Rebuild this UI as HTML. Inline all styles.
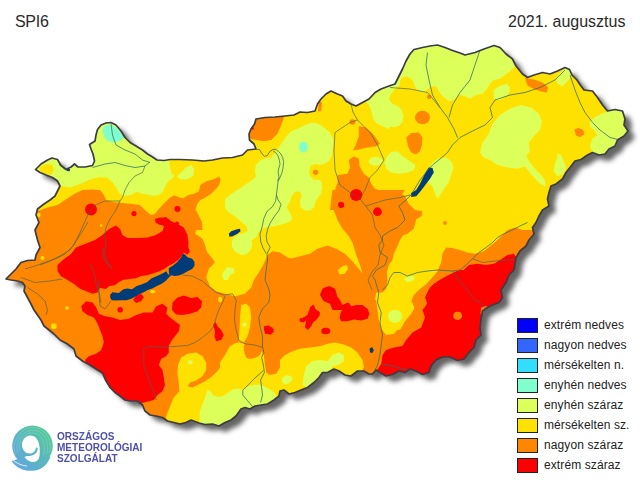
<!DOCTYPE html>
<html><head><meta charset="utf-8"><title>SPI6</title>
<style>
html,body{margin:0;padding:0;background:#fff;}
body{width:640px;height:480px;position:relative;overflow:hidden;font-family:"Liberation Sans",sans-serif;color:#2a2a2a;}
.t{position:absolute;font-size:16px;line-height:16px;white-space:nowrap;}
.lb{position:absolute;left:517px;width:19px;height:13px;border:1px solid #222;}
.lt{position:absolute;left:544px;font-size:12px;line-height:16px;white-space:nowrap;color:#222;letter-spacing:0.1px;}
svg{position:absolute;left:0;top:0;}
.lg{position:absolute;font-size:10.3px;line-height:12px;color:#4d51a8;left:57px;white-space:nowrap;font-weight:bold;transform-origin:0 0;transform:scaleX(0.975);}
</style></head><body>
<svg width="640" height="480" viewBox="0 0 640 480">
<defs>
<clipPath id="hu"><polygon points="35.5,169.5 41,164 47.5,160 52,158 57.5,159.5 61,165.5 66,169.5 71,167 74.5,164 78,167 85,167 92.5,165.5 94.5,161 93,154 91,149 89.5,144.5 95,141 96,135 97.5,129.5 101,125 106,123 111,122.5 116,125 121,131 125,137.5 130,142.5 136,146 142.5,150 147.5,154 152.5,157 157,160 164,160.5 170,159.5 180,159.5 192.5,160 204,161 212.5,160 222.5,158 232.5,157.5 242.5,155 247.5,150 256,149 254,144 249.5,140 249,134 251,129 254.5,124 256,119 265,117.5 275,117 285,116 294,115 300,112 307.5,112.5 315,111 317.5,104 321,99 326,94 331,91 337.5,94 342.5,96 346,101 351,104 356,106 362.5,102.5 369,99 375,92.5 381,89 389,86 395,84 399,76 402.5,69 406,61 410,54 414,49.5 422.5,47.5 430,46 437.5,45 445,47.5 452.5,50.5 460,53 465,55 475,52.5 484,49 494,45.5 500,47.5 506,54 512.5,59 516,66 522.5,74 527.5,77.5 534,75 542.5,72.5 550,74 557.5,71 565,67.5 569.5,69.5 572,75 577,80 581,86 584,90 592.5,91 597.5,97.5 602.5,105 607.5,111 615,109.5 622.5,111 625,119 624,125 628,131 624,136 617.5,140 615,146 609,149 605,154 599,155 592.5,152.5 587.5,155 581,159.5 575,161 570,167.5 566,172.5 562.5,179 556,184 551,186 549,192.5 547.5,199 549,206 542.5,210 539,216 536,222.5 532.5,227.5 534,234 529,240 526,246 520,251 516,257.5 515,264 514,270 509,275 506,282.5 501,290 502.5,297.5 499,302.5 492.5,305 487.5,307.5 482.5,311 481,319 480,327.5 481,335 476,340 474,347.5 469,352.5 464,359 457.5,360.5 450,357 442.5,357 436,360 431,366 429,372.5 422.5,374.5 416,371 410,369 405,372.5 399,371 392.5,374.5 386,376 380,372.5 376,370 372.5,374 369,374 364,371 357.5,371 351,376 345,375 339,371 334,369 327.5,372.5 322.5,372.5 319,377.5 314,382.5 307.5,387.5 301,390 295,392.5 289,394 284,390 280,391 279,396 274,400 267.5,404 261,405 255,406 250,409 245,407.5 241,409 236,416 231,420 225,422.5 219,426 212.5,424 205,424.5 199,423 191,420 186,422.5 180,424 174,422.5 167.5,421 162.5,417.5 156,416 150,415 145,411 142.5,405 137.5,401 131,401 125,400 120,396 115,392.5 110,387.5 105.5,380 102.5,373 96,369 90,365 82.5,361 76,356 74,349 67.5,344 60,340 54,334 49,330 44,326 41,320 37.5,315 34,310 31,304 27.5,297.5 24,291 25,286 22.5,282.5 17.5,281 11,280 6,279 11,274 16,269 21,262.5 27.5,260.5 35,260 36,255 40,247.5 37.5,240 35,230 39,222.5 36,215 37.5,209 44,204 50,200 55,196 57.5,191 60,186 57.5,181 52.5,177.5 46,175 40,172.5"/></clipPath>
<filter id="sh" x="-10%" y="-10%" width="120%" height="120%"><feGaussianBlur stdDeviation="2.5"/></filter>
</defs>
<g filter="url(#sh)" opacity="0.85"><polygon points="35.5,169.5 41,164 47.5,160 52,158 57.5,159.5 61,165.5 66,169.5 71,167 74.5,164 78,167 85,167 92.5,165.5 94.5,161 93,154 91,149 89.5,144.5 95,141 96,135 97.5,129.5 101,125 106,123 111,122.5 116,125 121,131 125,137.5 130,142.5 136,146 142.5,150 147.5,154 152.5,157 157,160 164,160.5 170,159.5 180,159.5 192.5,160 204,161 212.5,160 222.5,158 232.5,157.5 242.5,155 247.5,150 256,149 254,144 249.5,140 249,134 251,129 254.5,124 256,119 265,117.5 275,117 285,116 294,115 300,112 307.5,112.5 315,111 317.5,104 321,99 326,94 331,91 337.5,94 342.5,96 346,101 351,104 356,106 362.5,102.5 369,99 375,92.5 381,89 389,86 395,84 399,76 402.5,69 406,61 410,54 414,49.5 422.5,47.5 430,46 437.5,45 445,47.5 452.5,50.5 460,53 465,55 475,52.5 484,49 494,45.5 500,47.5 506,54 512.5,59 516,66 522.5,74 527.5,77.5 534,75 542.5,72.5 550,74 557.5,71 565,67.5 569.5,69.5 572,75 577,80 581,86 584,90 592.5,91 597.5,97.5 602.5,105 607.5,111 615,109.5 622.5,111 625,119 624,125 628,131 624,136 617.5,140 615,146 609,149 605,154 599,155 592.5,152.5 587.5,155 581,159.5 575,161 570,167.5 566,172.5 562.5,179 556,184 551,186 549,192.5 547.5,199 549,206 542.5,210 539,216 536,222.5 532.5,227.5 534,234 529,240 526,246 520,251 516,257.5 515,264 514,270 509,275 506,282.5 501,290 502.5,297.5 499,302.5 492.5,305 487.5,307.5 482.5,311 481,319 480,327.5 481,335 476,340 474,347.5 469,352.5 464,359 457.5,360.5 450,357 442.5,357 436,360 431,366 429,372.5 422.5,374.5 416,371 410,369 405,372.5 399,371 392.5,374.5 386,376 380,372.5 376,370 372.5,374 369,374 364,371 357.5,371 351,376 345,375 339,371 334,369 327.5,372.5 322.5,372.5 319,377.5 314,382.5 307.5,387.5 301,390 295,392.5 289,394 284,390 280,391 279,396 274,400 267.5,404 261,405 255,406 250,409 245,407.5 241,409 236,416 231,420 225,422.5 219,426 212.5,424 205,424.5 199,423 191,420 186,422.5 180,424 174,422.5 167.5,421 162.5,417.5 156,416 150,415 145,411 142.5,405 137.5,401 131,401 125,400 120,396 115,392.5 110,387.5 105.5,380 102.5,373 96,369 90,365 82.5,361 76,356 74,349 67.5,344 60,340 54,334 49,330 44,326 41,320 37.5,315 34,310 31,304 27.5,297.5 24,291 25,286 22.5,282.5 17.5,281 11,280 6,279 11,274 16,269 21,262.5 27.5,260.5 35,260 36,255 40,247.5 37.5,240 35,230 39,222.5 36,215 37.5,209 44,204 50,200 55,196 57.5,191 60,186 57.5,181 52.5,177.5 46,175 40,172.5" fill="#4a4a4a" transform="translate(7,6)"/></g>
<polygon points="35.5,169.5 41,164 47.5,160 52,158 57.5,159.5 61,165.5 66,169.5 71,167 74.5,164 78,167 85,167 92.5,165.5 94.5,161 93,154 91,149 89.5,144.5 95,141 96,135 97.5,129.5 101,125 106,123 111,122.5 116,125 121,131 125,137.5 130,142.5 136,146 142.5,150 147.5,154 152.5,157 157,160 164,160.5 170,159.5 180,159.5 192.5,160 204,161 212.5,160 222.5,158 232.5,157.5 242.5,155 247.5,150 256,149 254,144 249.5,140 249,134 251,129 254.5,124 256,119 265,117.5 275,117 285,116 294,115 300,112 307.5,112.5 315,111 317.5,104 321,99 326,94 331,91 337.5,94 342.5,96 346,101 351,104 356,106 362.5,102.5 369,99 375,92.5 381,89 389,86 395,84 399,76 402.5,69 406,61 410,54 414,49.5 422.5,47.5 430,46 437.5,45 445,47.5 452.5,50.5 460,53 465,55 475,52.5 484,49 494,45.5 500,47.5 506,54 512.5,59 516,66 522.5,74 527.5,77.5 534,75 542.5,72.5 550,74 557.5,71 565,67.5 569.5,69.5 572,75 577,80 581,86 584,90 592.5,91 597.5,97.5 602.5,105 607.5,111 615,109.5 622.5,111 625,119 624,125 628,131 624,136 617.5,140 615,146 609,149 605,154 599,155 592.5,152.5 587.5,155 581,159.5 575,161 570,167.5 566,172.5 562.5,179 556,184 551,186 549,192.5 547.5,199 549,206 542.5,210 539,216 536,222.5 532.5,227.5 534,234 529,240 526,246 520,251 516,257.5 515,264 514,270 509,275 506,282.5 501,290 502.5,297.5 499,302.5 492.5,305 487.5,307.5 482.5,311 481,319 480,327.5 481,335 476,340 474,347.5 469,352.5 464,359 457.5,360.5 450,357 442.5,357 436,360 431,366 429,372.5 422.5,374.5 416,371 410,369 405,372.5 399,371 392.5,374.5 386,376 380,372.5 376,370 372.5,374 369,374 364,371 357.5,371 351,376 345,375 339,371 334,369 327.5,372.5 322.5,372.5 319,377.5 314,382.5 307.5,387.5 301,390 295,392.5 289,394 284,390 280,391 279,396 274,400 267.5,404 261,405 255,406 250,409 245,407.5 241,409 236,416 231,420 225,422.5 219,426 212.5,424 205,424.5 199,423 191,420 186,422.5 180,424 174,422.5 167.5,421 162.5,417.5 156,416 150,415 145,411 142.5,405 137.5,401 131,401 125,400 120,396 115,392.5 110,387.5 105.5,380 102.5,373 96,369 90,365 82.5,361 76,356 74,349 67.5,344 60,340 54,334 49,330 44,326 41,320 37.5,315 34,310 31,304 27.5,297.5 24,291 25,286 22.5,282.5 17.5,281 11,280 6,279 11,274 16,269 21,262.5 27.5,260.5 35,260 36,255 40,247.5 37.5,240 35,230 39,222.5 36,215 37.5,209 44,204 50,200 55,196 57.5,191 60,186 57.5,181 52.5,177.5 46,175 40,172.5" fill="#ffe100"/>
<g clip-path="url(#hu)">
<polygon points="30.0,150.0 100.0,110.0 125.0,125.0 170.0,159.0 169.0,161.7 170.0,167.0 171.4,173.4 174.5,175.8 171.4,179.0 167.5,182.0 165.0,186.7 162.8,192.0 159.0,195.0 153.4,196.0 147.0,194.5 141.0,193.4 137.0,191.4 132.5,194.5 125.0,196.0 120.0,194.0 116.0,187.5 112.5,182.5 107.5,178.0 100.0,177.0 90.0,179.5 80.0,184.0 70.0,187.5 60.0,186.0 50.0,180.0 30.0,170.0" fill="#dcff5a"/>
<polygon points="38.8,167.5 45.0,164.0 52.5,164.5 54.0,170.0 51.0,175.0 45.0,174.0 40.0,171.0" fill="#ffe100"/>
<polygon points="104.0,126.0 109.0,124.5 114.0,126.0 120.0,131.0 124.0,137.5 120.0,141.0 114.0,142.5 107.5,141.0 104.0,136.0 102.5,131.0" fill="#80ffcc"/>
<polygon points="176.9,176.6 181.6,171.9 186.2,167.2 191.7,164.8 194.0,168.8 193.8,175.0 190.2,178.1 184.7,179.7 180.0,178.9" fill="#dcff5a"/>
<polygon points="255.9,164.7 260.0,160.6 265.1,158.6 271.2,157.6 275.6,151.6 280.3,145.3 283.4,140.6 287.3,135.2 291.2,131.2 296.7,128.9 302.2,126.6 306.9,124.2 311.6,122.7 317.0,123.4 321.7,125.8 325.6,128.9 329.5,132.0 331.9,135.9 333.4,140.6 333.1,146.1 332.4,154.5 329.4,160.6 324.3,163.7 318.2,165.7 312.0,167.8 309.0,171.8 311.0,175.9 316.1,179.0 321.2,181.0 322.2,187.1 321.2,193.3 318.2,197.3 315.1,202.4 314.1,207.6 310.0,210.6 304.9,210.6 300.8,207.6 299.8,201.4 301.8,195.3 299.8,191.2 294.7,192.2 291.6,196.3 289.6,202.4 286.6,207.5 289.7,212.2 292.0,216.9 291.2,220.8 286.6,223.1 280.3,224.7 274.0,226.2 268.6,227.0 263.9,227.8 260.8,230.2 258.4,232.5 256.9,236.4 253.8,238.8 251.4,240.3 252.2,245.0 250.9,249.7 247.5,253.6 242.8,255.2 238.1,253.6 234.2,250.5 231.9,246.6 231.9,241.9 233.4,238.0 238.1,234.8 243.6,233.3 247.5,231.0 246.7,226.2 243.6,223.9 241.2,221.6 237.3,218.4 233.4,215.3 228.8,212.2 225.6,209.0 224.8,202.8 225.6,198.1 227.3,197.3 232.4,193.3 238.6,189.2 244.7,185.1 250.8,181.0 255.9,176.9 254.9,170.8" fill="#dcff5a"/>
<ellipse cx="303.4" cy="146.9" rx="4.4" ry="5.3" fill="#80ffcc"/>
<polygon points="365.0,102.0 373.6,95.9 378.3,91.2 385.3,88.1 391.6,87.3 395.5,85.8 396.2,88.1 393.1,91.2 390.0,95.2 389.2,99.8 392.3,103.8 397.8,106.1 401.7,110.0 403.3,115.5 402.5,121.7 399.4,125.6 394.7,127.2 390.0,126.4 387.7,129.5 385.3,127.2 380.6,125.6 376.7,123.3 373.6,119.4 372.0,113.9 370.5,108.4 368.9,104.5" fill="#dcff5a"/>
<ellipse cx="375.8" cy="161.2" rx="7.0" ry="4.2" fill="#dcff5a"/>
<polygon points="386.2,157.5 391.2,152.0 397.5,151.2 402.5,156.2 410.0,161.2 415.5,165.0 413.8,170.0 407.5,172.5 400.0,173.8 391.2,172.5 386.2,168.8 384.5,162.5" fill="#dcff5a"/>
<polygon points="380.0,87.5 392.0,90.0 396.2,88.1 399.5,85.5 400.2,80.3 402.5,77.2 407.2,76.4 411.1,78.8 413.4,81.9 414.2,85.0 416.6,88.9 421.2,91.2 425.2,92.5 425.9,90.5 429.0,88.1 432.2,86.6 436.1,86.2 438.8,91.2 442.5,96.2 448.8,101.2 453.8,100.0 458.8,95.0 465.0,96.2 470.0,98.8 476.2,95.0 482.5,93.8 486.2,90.0 490.0,83.8 493.8,80.0 500.0,78.8 505.0,75.0 510.0,71.2 513.8,67.5 520.0,62.5 520.0,30.0 405.0,30.0" fill="#dcff5a"/>
<polygon points="493.8,90.0 500.0,86.2 507.5,86.2 510.0,91.2 506.2,96.2 500.0,100.0 493.8,98.8" fill="#dcff5a"/>
<polygon points="480.0,152.5 482.5,142.5 488.8,133.8 492.5,123.8 500.0,115.0 510.0,108.8 521.2,105.0 531.2,107.5 538.8,113.8 542.0,121.2 540.0,130.0 533.8,136.2 528.8,142.5 530.0,151.2 526.2,156.2 530.0,162.5 535.0,168.8 540.0,173.8 545.0,180.0 545.5,186.2 540.0,183.8 533.8,177.5 528.8,171.2 525.0,166.2 517.5,168.8 507.5,167.5 497.5,165.0 490.0,160.0 483.8,157.5" fill="#dcff5a"/>
<polygon points="557.5,153.8 561.2,155.0 563.8,161.2 566.2,167.5 563.8,173.8 557.5,176.2 553.8,171.2 555.0,163.8 557.0,158.8" fill="#dcff5a"/>
<polygon points="493.8,90.0 500.0,86.2 507.5,85.0 510.0,90.0 505.0,96.2 498.8,98.8 493.8,95.0" fill="#dcff5a"/>
<polygon points="590.0,121.2 596.2,116.2 605.0,112.5 615.0,109.5 630.0,105.0 640.0,118.8 640.0,140.0 618.8,160.0 598.8,157.5 592.5,152.5 590.0,146.2 592.5,138.8 597.5,135.0 593.8,130.0 590.0,126.2" fill="#dcff5a"/>
<polygon points="493.8,91.2 498.8,86.2 506.2,83.8 510.0,87.5 506.2,92.5 500.0,97.5 495.0,97.5" fill="#dcff5a"/>
<polygon points="559.5,73.8 565.0,68.0 570.0,70.0 571.2,76.2 567.5,81.2 562.5,86.2 557.5,83.8 556.2,78.8" fill="#dcff5a"/>
<polygon points="431.2,163.8 437.5,158.8 446.2,157.5 451.2,161.2 453.8,167.5 451.2,175.0 448.8,182.5 443.8,188.8 440.0,195.0 437.5,198.8 435.0,193.8 432.5,186.2 428.8,183.8 426.2,178.8 428.8,171.2" fill="#dcff5a"/>
<polygon points="153.4,215.6 158.0,210.0 163.6,204.0 169.0,198.4 173.8,195.3 178.4,196.9 183.0,198.4 187.8,195.3 194.0,193.8 198.8,191.4 200.3,185.0 206.5,181.2 214.4,179.0 219.0,176.5 220.6,179.0 219.8,183.6 216.7,188.3 211.2,193.8 205.0,197.7 200.3,200.0 197.2,204.0 195.6,209.4 198.8,215.6 201.9,221.9 202.6,230.0 160.0,230.0" fill="#ff8700"/>
<polygon points="358.8,126.2 366.2,127.5 373.8,135.0 380.0,143.8 376.2,146.2 367.5,147.5 358.8,149.5 353.0,150.5 356.2,143.8 358.8,136.2" fill="#ff8700"/>
<ellipse cx="352.5" cy="122.0" rx="3.0" ry="2.8" fill="#ff8700"/>
<polygon points="337.5,175.0 347.5,173.8 350.0,167.5 348.8,160.0 353.8,156.2 358.8,158.8 359.5,166.2 363.8,173.8 368.8,177.5 371.2,183.8 375.0,188.8 382.5,191.2 390.0,190.0 398.8,192.5 405.0,196.2 407.5,202.5 400.0,206.2 397.5,210.0 330.0,210.0 331.2,200.0 335.0,190.0 337.5,182.5" fill="#ff8700"/>
<ellipse cx="422.5" cy="117.5" rx="7.5" ry="6.8" fill="#ff8700"/>
<polygon points="406.2,137.5 411.2,133.0 418.8,132.5 422.5,137.5 422.0,145.0 420.0,151.2 416.2,154.5 411.2,152.5 408.0,146.2" fill="#ff8700"/>
<ellipse cx="429.2" cy="97.0" rx="2.0" ry="2.0" fill="#ff8700"/>
<ellipse cx="316.2" cy="172.0" rx="1.8" ry="1.8" fill="#ff8700"/>
<polygon points="318.8,101.2 322.0,102.5 321.2,111.2 318.0,111.2" fill="#ff8700"/>
<ellipse cx="429.2" cy="96.8" rx="2.0" ry="2.0" fill="#ff8700"/>
<polygon points="525.0,78.0 533.8,79.5 542.5,82.5 548.0,87.0 547.0,92.5 541.2,91.5 533.8,89.0 527.5,85.5" fill="#ff8700"/>
<polygon points="574.5,130.0 578.8,128.2 583.0,130.0 583.8,134.5 580.0,137.0 576.2,135.5" fill="#ff8700"/>
<polygon points="574.5,130.0 577.5,128.0 583.0,130.0 584.5,133.8 580.5,137.0 576.2,135.5" fill="#ff8700"/>
<polygon points="400.0,193.8 405.0,196.2 408.8,203.8 415.0,210.0 422.5,211.2 421.2,216.2 415.0,220.0 413.8,228.8 407.5,233.8 400.0,236.2" fill="#ff8700"/>
<ellipse cx="445.0" cy="223.0" rx="2.0" ry="2.0" fill="#ff8700"/>
<polygon points="488.8,250.0 493.8,243.8 500.0,237.5 507.5,230.0 515.0,227.5 522.5,230.0 530.0,232.5 535.0,230.0 536.2,236.2 532.5,241.2 528.8,247.5 526.2,250.0" fill="#ff8700"/>
<polygon points="400.0,350.0 400.0,330.0 405.0,321.2 411.2,313.8 416.2,305.0 421.2,295.0 425.0,287.5 431.2,278.8 437.5,271.2 441.2,262.5 442.5,253.8 446.2,247.5 452.5,248.0 460.0,250.0 467.5,252.5 475.0,253.8 483.8,251.2 490.0,246.2 496.2,241.2 502.5,236.2 510.0,231.2 517.5,230.0 550.0,230.0 550.0,350.0" fill="#ff8700"/>
<polygon points="280.0,257.5 290.0,258.8 300.0,256.2 310.0,253.8 317.5,248.8 327.5,245.5 336.2,248.8 345.0,253.8 352.5,261.2 358.8,268.8 362.5,273.8 360.0,265.0 356.2,255.0 352.5,242.5 348.8,236.2 342.5,228.8 337.5,220.0 333.8,210.0 331.2,200.0 332.5,190.0 405.0,190.0 400.0,197.5 403.8,205.0 410.0,211.2 418.8,211.2 422.5,215.0 416.2,218.8 415.0,225.0 410.0,230.0 403.8,233.8 400.0,240.0 397.5,246.2 393.8,253.8 392.5,260.0 388.8,265.0 387.0,272.5 387.5,281.2 386.2,288.8 382.5,292.5 376.2,292.5 375.0,300.0 376.2,310.0 280.0,310.0" fill="#ff8700"/>
<polygon points="440.0,275.0 432.5,278.8 425.0,285.0 418.8,290.0 413.8,295.0 411.2,301.2 415.0,306.2 416.2,310.0 440.0,310.0" fill="#ff8700"/>
<polygon points="0.0,212.0 30.0,212.0 41.0,210.0 47.5,207.5 57.5,205.0 65.0,200.0 74.0,194.0 82.5,190.0 92.5,189.5 100.0,190.0 104.0,195.0 106.0,200.0 112.5,202.0 122.5,203.0 132.5,204.0 140.0,205.0 146.0,211.0 151.0,215.0 155.0,214.0 160.0,220.0 198.0,220.0 200.0,220.0 197.5,227.5 195.0,233.8 202.5,238.8 205.0,245.0 207.0,252.0 212.0,258.0 215.0,262.5 208.8,268.8 206.2,277.5 210.0,286.2 216.2,291.2 225.0,293.8 235.0,296.2 245.0,293.8 251.2,287.5 253.8,280.0 258.8,272.5 263.8,263.8 267.5,255.0 272.5,251.2 280.0,252.5 287.5,257.5 296.2,260.0 307.5,256.2 316.2,252.5 320.0,251.2 335.0,255.0 335.0,440.0 0.0,440.0" fill="#ff8700"/>
<polygon points="330.0,300.0 376.2,300.0 377.5,310.0 378.8,320.0 381.2,328.8 386.2,335.0 393.8,333.8 397.5,330.0 405.0,328.8 410.0,323.8 413.8,317.5 415.0,310.0 412.5,302.5 416.2,297.5 420.0,293.8 423.8,287.5 428.8,281.2 436.2,276.2 442.5,272.5 452.5,270.0 480.0,262.0 520.0,262.0 520.0,400.0 330.0,400.0" fill="#ff8700"/>
<polygon points="241.2,305.0 246.2,303.8 250.0,307.5 251.2,317.5 250.0,327.5 247.5,336.2 243.8,342.5 238.8,341.2 239.5,330.0 240.0,317.5" fill="#ffe100"/>
<polygon points="220.0,362.5 225.0,355.0 230.0,346.2 237.5,342.5 245.0,343.8 243.8,346.2 243.0,353.8 246.2,358.8 253.8,358.8 260.0,356.2 261.2,351.2 263.8,355.0 265.0,365.0 266.2,372.5 270.0,375.0 276.2,373.8 280.0,367.5 280.0,360.0 285.0,355.0 292.5,351.2 300.0,348.8 310.0,347.5 320.0,346.2 327.5,343.8 335.0,342.5 343.8,344.5 351.2,347.5 357.5,352.5 362.5,360.0 363.8,367.5 360.0,373.8 355.0,376.2 355.0,400.0 220.0,400.0" fill="#ffe100"/>
<polygon points="166.2,416.2 170.0,406.2 173.8,397.5 179.5,391.2 178.8,382.5 177.5,373.8 178.0,365.0 181.2,357.5 187.5,353.8 196.2,352.5 202.5,356.2 206.2,362.5 206.2,370.0 202.5,376.2 196.2,380.5 190.0,382.5 187.5,386.2 192.5,387.5 198.8,384.5 205.0,381.2 211.2,377.0 216.2,372.5 221.2,366.2 224.5,360.0 227.0,353.8 229.5,348.0 233.8,343.8 240.0,342.5 243.0,346.2 244.5,352.5 246.2,357.5 250.0,359.5 256.2,357.5 260.0,355.0 260.0,430.0 166.2,430.0" fill="#ffe100"/>
<polygon points="256.2,117.5 265.0,116.2 275.0,115.8 285.0,115.0 281.2,125.0 277.5,133.8 271.2,140.0 263.8,141.2 256.2,140.0 250.5,138.8 247.5,133.8 250.0,128.8 253.8,123.8" fill="#ff8700"/>
<ellipse cx="356.2" cy="195.0" rx="5.0" ry="4.8" fill="#ff0000"/>
<ellipse cx="341.2" cy="204.5" rx="2.8" ry="2.5" fill="#ff0000"/>
<ellipse cx="377.5" cy="209.5" rx="2.8" ry="2.2" fill="#ff0000"/>
<polygon points="400.0,350.0 406.2,340.0 412.5,332.5 421.2,327.5 425.0,317.5 422.5,310.0 427.5,303.8 426.2,295.0 430.0,287.5 437.5,281.2 446.2,276.2 453.8,272.5 462.5,271.2 468.8,265.0 477.5,263.8 486.2,265.0 493.8,263.8 500.0,260.0 507.5,255.0 513.8,253.8 517.5,258.8 550.0,258.8 550.0,350.0" fill="#ff0000"/>
<ellipse cx="356.2" cy="195.0" rx="6.2" ry="6.0" fill="#ff0000"/>
<ellipse cx="341.2" cy="205.0" rx="3.0" ry="3.0" fill="#ff0000"/>
<ellipse cx="377.5" cy="212.0" rx="4.5" ry="4.0" fill="#ff0000"/>
<polygon points="320.0,295.0 322.5,288.8 328.8,286.2 333.8,288.8 336.2,295.0 340.0,300.0 342.5,305.0 347.5,302.5 351.2,306.2 352.5,310.0 332.5,310.0 330.0,303.8 323.8,301.2" fill="#ff0000"/>
<polygon points="440.0,281.2 433.8,283.8 428.8,290.0 425.0,297.5 427.5,303.8 423.8,310.0 440.0,310.0" fill="#ff0000"/>
<polygon points="57.5,265.0 64.0,259.0 71.0,254.0 76.0,247.5 85.0,244.0 95.0,240.0 102.5,235.0 109.0,229.0 116.0,225.5 120.0,229.0 122.5,235.0 127.5,238.0 137.5,238.0 147.5,237.5 156.0,235.0 162.5,231.0 164.0,226.0 159.0,224.0 155.0,221.0 160.0,218.0 166.0,217.0 171.0,221.0 177.5,224.0 183.8,227.5 187.5,235.0 188.5,242.5 188.3,247.0 189.8,251.7 187.5,254.8 183.6,252.5 181.2,256.4 178.0,260.3 173.4,263.4 168.8,265.8 164.0,268.9 159.4,271.2 153.0,273.6 146.9,275.2 141.4,276.0 136.0,278.3 129.7,279.0 123.4,279.8 118.8,282.2 114.8,285.3 109.4,286.0 106.0,289.0 100.0,288.0 97.5,292.5 92.5,293.8 86.2,291.2 80.0,288.8 73.8,283.8 67.5,280.0 61.2,276.2 57.5,271.2" fill="#ff0000"/>
<ellipse cx="91.0" cy="209.5" rx="6.0" ry="6.0" fill="#ff0000"/>
<ellipse cx="134.0" cy="213.5" rx="2.6" ry="2.6" fill="#ff0000"/>
<ellipse cx="177.5" cy="209.0" rx="3.0" ry="3.0" fill="#ff0000"/>
<polygon points="155.0,219.0 160.0,217.5 166.0,218.5 170.0,222.0 168.0,225.0 160.0,225.0 156.0,223.0" fill="#ff0000"/>
<ellipse cx="177.0" cy="223.5" rx="2.0" ry="2.0" fill="#ff0000"/>
<ellipse cx="177.5" cy="208.8" rx="2.0" ry="2.0" fill="#ff0000"/>
<polygon points="81.2,306.2 86.2,301.2 92.5,302.5 96.2,307.5 98.8,313.8 105.0,316.2 112.5,317.5 120.0,320.0 128.8,318.8 136.2,315.0 143.8,312.5 152.5,312.5 156.2,306.2 162.5,303.8 167.5,307.5 166.2,313.8 170.0,317.5 175.0,321.2 180.0,325.0 178.8,331.2 175.0,336.2 171.2,341.2 168.8,346.2 168.8,352.5 166.2,356.2 161.2,358.8 158.8,365.0 162.5,370.0 163.8,377.5 165.0,385.0 162.5,391.2 157.5,395.0 153.8,400.0 115.0,410.0 95.0,385.0 85.0,360.0 88.8,356.2 96.2,353.8 101.2,350.0 103.8,342.5 102.5,336.2 100.0,330.0 97.0,322.5 93.8,317.5 87.5,315.0 82.5,311.2" fill="#ff0000"/>
<polygon points="172.5,302.5 177.5,297.5 183.8,295.5 191.2,298.0 197.5,297.0 202.0,301.2 201.2,307.5 197.5,311.2 190.0,313.8 182.5,315.0 176.2,314.5 172.0,310.0" fill="#ff0000"/>
<polygon points="213.0,325.0 215.5,322.0 217.5,326.2 221.2,330.0 223.8,335.0 221.2,340.0 216.2,341.2 214.5,336.2 215.0,331.2" fill="#ff0000"/>
<polygon points="133.0,300.0 136.2,295.5 141.2,293.8 143.8,297.0 141.2,301.2 136.2,303.0" fill="#ff0000"/>
<ellipse cx="120.2" cy="309.8" rx="2.8" ry="2.8" fill="#ff0000"/>
<polygon points="320.5,293.8 323.8,288.0 330.0,286.2 335.0,288.8 337.0,295.0 333.8,300.0 338.8,302.5 342.5,306.2 340.0,310.0 336.2,308.8 332.5,301.2 327.5,301.2 322.5,299.5" fill="#ff0000"/>
<polygon points="339.5,317.5 341.2,311.2 345.0,307.5 348.8,302.5 351.2,306.2 356.2,305.0 362.5,305.0 367.5,308.8 369.5,313.8 367.5,318.8 361.2,320.5 353.8,319.5 347.5,321.2 341.2,321.2" fill="#ff0000"/>
<polygon points="311.2,310.0 313.8,304.5 315.5,310.0 320.0,312.5 317.5,317.5 313.8,321.2 311.2,326.2 308.0,330.0 305.0,327.5 306.2,321.2 308.8,316.2" fill="#ff0000"/>
<ellipse cx="301.2" cy="320.0" rx="1.8" ry="2.0" fill="#ff0000"/>
<ellipse cx="325.8" cy="331.0" rx="4.5" ry="3.2" fill="#ff0000"/>
<polygon points="263.8,328.8 267.5,325.8 272.5,327.5 273.8,332.0 270.0,334.5 265.5,333.0" fill="#ff0000"/>
<polygon points="263.8,326.2 268.8,325.5 273.8,329.5 271.2,334.5 265.0,333.8" fill="#ff0000"/>
<polygon points="310.0,307.5 313.0,304.5 315.0,308.8 318.8,311.2 320.0,315.0 316.2,320.0 311.2,323.8 308.8,328.8 305.5,326.2 306.2,320.0 303.8,322.5 300.0,321.2 302.5,318.0 307.5,315.0" fill="#ff0000"/>
<polygon points="376.2,371.2 381.2,363.8 382.5,355.0 386.2,350.0 393.8,347.5 401.2,346.2 407.5,343.8 411.2,337.5 417.5,332.5 423.8,328.8 430.0,323.8 432.5,315.0 430.0,310.0 425.0,307.5 428.8,301.2 427.5,295.0 431.2,288.8 436.2,285.0 442.5,280.0 450.0,275.0 456.2,271.2 460.0,270.0 530.0,270.0 530.0,390.0 376.2,390.0" fill="#ff0000"/>
<ellipse cx="458.0" cy="315.8" rx="3.8" ry="3.8" fill="#ff8700"/>
<ellipse cx="485.0" cy="308.8" rx="2.5" ry="2.5" fill="#ff8700"/>
<polygon points="338.0,270.0 342.5,266.2 347.0,265.0 348.0,269.5 344.5,273.8 339.5,274.5" fill="#ffe100"/>
<polygon points="403.8,278.8 408.8,276.2 415.0,276.2 413.8,280.0 407.5,282.5" fill="#dcff5a"/>
<polygon points="199.7,421.0 199.7,412.0 202.5,404.0 205.3,397.0 207.2,390.0 210.0,391.0 212.8,395.0 217.5,397.0 223.0,396.0 227.8,393.0 232.5,389.4 238.0,388.4 242.8,390.0 248.4,386.6 254.0,384.7 259.7,384.7 264.4,386.6 270.0,389.4 274.7,393.0 276.6,397.0 285.0,410.0 230.0,435.0 200.0,435.0" fill="#dcff5a"/>
<polygon points="282.2,378.1 285.9,375.3 290.6,375.9 292.5,379.1 289.7,382.8 285.0,384.7 282.2,381.9" fill="#dcff5a"/>
<polygon points="302.5,385.0 303.8,375.0 306.2,366.2 312.5,361.2 320.0,360.0 327.5,361.2 332.5,355.0 338.8,352.5 343.8,355.0 343.8,361.2 338.8,365.0 332.5,366.2 328.8,372.5 320.0,375.0 315.0,380.0 307.5,387.5" fill="#dcff5a"/>
<ellipse cx="244.5" cy="324.5" rx="2.0" ry="2.0" fill="#dcff5a"/>
<ellipse cx="190.3" cy="362.2" rx="2.3" ry="2.3" fill="#dcff5a"/>
<ellipse cx="457.5" cy="315.8" rx="4.2" ry="4.0" fill="#ff8700"/>
<polygon points="481.2,307.5 487.5,306.2 488.8,312.5 483.8,317.5 480.5,313.8" fill="#ff8700"/>
<ellipse cx="395.0" cy="316.2" rx="7.0" ry="6.5" fill="#dcff5a"/>
<ellipse cx="67.0" cy="308.0" rx="2.0" ry="1.8" fill="#ffe100"/>
<ellipse cx="53.8" cy="326.2" rx="2.8" ry="3.0" fill="#ffe100"/>
<ellipse cx="42.5" cy="258.0" rx="2.0" ry="2.0" fill="#ffe100"/>
<ellipse cx="101.2" cy="225.5" rx="1.2" ry="1.2" fill="#ffe100"/>
<ellipse cx="38.8" cy="215.0" rx="1.8" ry="2.2" fill="#ffe100"/>
<ellipse cx="152.7" cy="291.6" rx="2.8" ry="1.7" fill="#ffe100"/>
<polygon points="250.0,127.5 253.8,127.5 253.8,129.5 250.0,129.5" fill="#ff0000"/>
<polygon points="310.0,166.2 315.0,163.8 320.0,165.0 320.0,178.8 313.8,180.0 309.5,175.0" fill="#ffe100"/>
<ellipse cx="315.5" cy="172.0" rx="2.2" ry="2.2" fill="#ff8700"/>
<ellipse cx="315.6" cy="172.3" rx="2.6" ry="2.6" fill="#ff8700"/>
<polygon points="223.8,271.2 227.5,267.0 233.8,268.0 234.5,272.5 230.0,275.0 228.0,280.0 223.8,280.0 222.0,275.0" fill="#dcff5a"/>
<ellipse cx="220.2" cy="299.5" rx="2.0" ry="2.8" fill="#ffe100"/>
<polygon points="428.8,167.5 432.5,168.0 433.8,172.5 430.0,178.8 426.2,183.8 422.5,188.8 419.5,192.5 416.2,196.2 411.2,197.0 411.2,193.0 416.2,190.0 420.0,183.8 423.0,177.5 426.2,171.2" fill="#003c78"/>
<polygon points="110.2,294.7 112.5,292.3 118.8,293.1 123.4,289.2 127.3,288.4 132.0,289.2 136.7,286.1 141.4,284.5 146.9,282.2 151.6,278.3 157.0,275.9 162.5,273.6 166.4,271.2 167.5,273.6 169.5,275.2 168.8,272.0 168.8,268.1 172.7,265.8 177.3,261.9 181.2,257.2 182.8,253.3 185.2,254.8 187.5,257.2 192.2,258.8 194.5,261.9 194.5,265.8 192.2,268.9 187.5,271.2 183.6,273.6 179.7,275.2 175.0,275.9 171.1,275.2 168.8,277.5 165.6,280.9 161.7,283.8 157.0,286.1 152.3,288.4 147.7,290.0 143.8,292.3 139.8,293.9 135.9,296.2 132.0,298.6 126.6,300.2 121.1,300.2 115.6,300.6 111.7,300.2 110.2,297.8" fill="#003c78"/>
<polygon points="228.8,233.8 231.2,231.2 236.2,229.5 240.0,228.8 240.5,231.2 237.5,233.8 232.5,236.2 229.5,236.8" fill="#003c78"/>
<polygon points="369.5,348.8 372.0,347.0 373.8,350.0 372.5,353.0 370.0,352.5" fill="#003c78"/>
<polygon points="59.4,161.9 61.4,161.1 62.2,163.4 60.9,166.2 59.4,165.0" fill="#003c78"/>
<polygon points="65.6,168.4 70.0,168.9 69.7,171.2 66.9,170.9" fill="#003c78"/>
<polyline points="111.0,124.0 112.5,135.0 116.0,145.0 125.0,150.0 135.0,154.0 142.5,160.0 150.0,162.5" fill="none" stroke="#2f6a6a" stroke-width="0.9" stroke-opacity="0.85" stroke-linejoin="round"/>
<polyline points="92.5,167.5 105.0,164.0 115.0,162.5 125.0,165.5 135.0,167.5 145.0,166.0 150.0,162.0" fill="none" stroke="#2f6a6a" stroke-width="0.9" stroke-opacity="0.85" stroke-linejoin="round"/>
<polyline points="145.0,166.0 142.5,172.5 135.0,176.0 129.0,182.5 125.0,190.0 122.5,197.5 120.0,201.0 116.0,210.0 110.0,219.0 106.0,227.5 105.0,235.0 106.0,245.0 104.0,255.0 107.5,262.5 112.5,269.0" fill="none" stroke="#4a6458" stroke-width="0.8" stroke-opacity="0.85" stroke-linejoin="round"/>
<polyline points="120.0,201.0 105.0,201.0 95.0,205.0 91.0,209.0 86.0,219.0 80.0,232.5 74.0,245.0 65.0,254.0 55.0,259.0 45.0,262.5 35.0,266.0 25.0,269.0" fill="none" stroke="#4a6458" stroke-width="0.8" stroke-opacity="0.85" stroke-linejoin="round"/>
<polyline points="427.5,52.5 426.0,65.0 429.0,80.0 432.5,95.0 440.0,107.5 447.5,117.5 454.0,129.0 457.5,137.5" fill="none" stroke="#2f6a6a" stroke-width="0.9" stroke-opacity="0.85" stroke-linejoin="round"/>
<polyline points="480.0,50.0 475.0,65.0 470.0,80.0 460.0,92.5 452.5,105.0 449.0,117.5" fill="none" stroke="#2f6a6a" stroke-width="0.9" stroke-opacity="0.85" stroke-linejoin="round"/>
<polyline points="390.0,87.5 410.0,89.0 427.5,92.5 440.0,107.5" fill="none" stroke="#4a6458" stroke-width="0.8" stroke-opacity="0.85" stroke-linejoin="round"/>
<polyline points="565.0,70.0 555.0,80.0 540.0,87.5 525.0,92.5 510.0,95.0 495.0,100.0 490.0,107.5 492.5,117.5 485.0,125.0 472.5,131.0 460.0,137.5 452.5,145.0 447.5,152.5 440.0,159.0 432.5,165.0 428.0,170.0" fill="none" stroke="#2f6a6a" stroke-width="0.9" stroke-opacity="0.85" stroke-linejoin="round"/>
<polyline points="570.0,75.0 575.0,90.0 580.0,102.5 585.0,112.5 592.5,122.5 600.0,130.0 610.0,137.5 620.0,140.0" fill="none" stroke="#2f6a6a" stroke-width="0.9" stroke-opacity="0.85" stroke-linejoin="round"/>
<polyline points="335.0,132.5 350.0,122.5 357.5,120.0 370.0,132.5 377.5,145.0 384.0,160.0 377.5,170.0 370.0,177.5 365.0,190.0 360.0,197.5" fill="none" stroke="#4a6458" stroke-width="0.8" stroke-opacity="0.85" stroke-linejoin="round"/>
<polyline points="335.0,132.5 334.0,150.0 335.0,170.0 340.0,185.0 350.0,192.5 356.0,196.0" fill="none" stroke="#4a6458" stroke-width="0.8" stroke-opacity="0.85" stroke-linejoin="round"/>
<polyline points="357.5,196.0 365.0,205.0 372.5,215.0 375.0,227.5 380.0,235.0 384.0,245.0 380.0,255.0 378.0,265.0 372.0,272.0 368.0,280.0 372.0,290.0" fill="none" stroke="#4a6458" stroke-width="0.8" stroke-opacity="0.85" stroke-linejoin="round"/>
<polyline points="366.0,206.0 385.0,200.0 400.0,197.5 410.0,195.0" fill="none" stroke="#4a6458" stroke-width="0.8" stroke-opacity="0.85" stroke-linejoin="round"/>
<polyline points="351.0,104.0 353.0,112.0 357.5,120.0" fill="none" stroke="#4a6458" stroke-width="0.8" stroke-opacity="0.85" stroke-linejoin="round"/>
<polyline points="21.0,277.5 35.0,282.5 50.0,281.0 62.5,279.0" fill="none" stroke="#4a6458" stroke-width="0.8" stroke-opacity="0.85" stroke-linejoin="round"/>
<polyline points="40.0,265.0 50.0,261.0 60.0,256.0 70.0,250.0 75.0,242.5 82.0,232.0 88.0,222.0" fill="none" stroke="#4a6458" stroke-width="0.8" stroke-opacity="0.85" stroke-linejoin="round"/>
<polyline points="27.5,287.5 37.5,294.0 45.0,301.0 47.5,310.0 46.0,315.0" fill="none" stroke="#4a6458" stroke-width="0.8" stroke-opacity="0.85" stroke-linejoin="round"/>
<polyline points="90.0,264.0 94.0,272.5 96.0,282.5 99.0,294.0 100.0,306.0 105.0,309.0 111.0,301.0" fill="none" stroke="#4a6458" stroke-width="0.8" stroke-opacity="0.85" stroke-linejoin="round"/>
<polyline points="104.0,247.5 102.5,256.0 107.5,264.0 112.5,269.0" fill="none" stroke="#4a6458" stroke-width="0.8" stroke-opacity="0.85" stroke-linejoin="round"/>
<polyline points="256.5,149.5 259.4,149.4 262.2,154.0 264.5,156.4 267.3,155.5 269.7,151.7 273.0,149.4 275.8,149.4 278.1,151.2 281.0,154.0 282.8,157.8 283.6,162.5 283.0,168.1 281.9,172.8 280.0,177.5 278.1,181.2 277.7,185.0 277.0,190.0 276.4,195.0 278.0,199.7 281.0,204.4 278.8,210.6 274.0,216.9 270.2,223.1 267.8,228.6 266.2,235.6 267.0,241.9 270.2,247.3 267.8,252.0 267.0,254.4 267.5,260.0 266.2,270.0 265.0,280.0 268.8,288.8 270.0,295.0 268.8,302.5 262.5,308.8 258.8,317.5 260.0,326.2 262.5,336.2 262.5,346.2 263.8,352.5 261.6,357.5 263.4,365.0 264.4,372.5 260.6,380.0 261.6,387.5 262.5,395.0 260.6,402.5" fill="none" stroke="#2f6a6a" stroke-width="0.9" stroke-opacity="0.85" stroke-linejoin="round"/>
<polyline points="273.0,150.8 276.2,153.1 278.1,155.9 279.5,160.6 280.0,164.4 278.6,169.0 278.1,172.8 279.0,176.6 277.7,181.2" fill="none" stroke="#2f6a6a" stroke-width="0.9" stroke-opacity="0.85" stroke-linejoin="round"/>
<polyline points="276.4,195.0 275.6,201.2 272.5,206.7 267.0,211.4 263.9,218.4 262.3,226.2 260.0,234.0 260.8,241.9 263.1,248.1 266.2,253.6" fill="none" stroke="#2f6a6a" stroke-width="0.9" stroke-opacity="0.85" stroke-linejoin="round"/>
<polyline points="263.4,370.6 255.0,378.0 248.4,384.7 242.8,390.3 242.8,395.0 247.5,400.6 252.2,406.2 253.0,410.0" fill="none" stroke="#2f6a6a" stroke-width="0.9" stroke-opacity="0.85" stroke-linejoin="round"/>
<polyline points="428.0,170.0 420.0,180.0 414.0,190.0 410.0,196.0 405.0,201.0 398.8,206.0 402.5,212.5 405.0,220.0 397.5,227.5 390.0,231.0 382.5,236.0 382.5,240.0 378.8,245.0 380.0,252.5 387.5,257.5 385.0,265.0 376.2,270.0 372.5,276.2 375.0,280.0 378.8,292.5 377.5,302.5 381.2,312.5 380.0,322.5 382.5,335.0 381.2,345.0 380.0,355.0 377.5,365.0 375.0,370.0" fill="none" stroke="#2f6a6a" stroke-width="0.9" stroke-opacity="0.85" stroke-linejoin="round"/>
<polyline points="381.0,364.0 392.5,366.0 402.5,369.0 407.5,370.0" fill="none" stroke="#2f6a6a" stroke-width="0.9" stroke-opacity="0.85" stroke-linejoin="round"/>
<polyline points="527.5,222.5 520.0,226.0 512.5,230.0 503.8,233.8 497.5,237.5 492.5,242.5 486.0,247.5 478.8,252.5 472.5,258.8 466.0,265.0 460.0,270.0 452.5,271.0 445.0,270.5 437.5,270.0 427.5,271.0 417.5,272.5 407.5,276.0 400.0,272.5 393.8,272.5 390.0,277.5 387.5,285.0 382.5,290.0" fill="none" stroke="#2f6a6a" stroke-width="0.9" stroke-opacity="0.85" stroke-linejoin="round"/>
<polyline points="472.5,258.8 482.5,262.5 495.0,261.0 507.5,260.0 515.0,259.5" fill="none" stroke="#4a6458" stroke-width="0.8" stroke-opacity="0.85" stroke-linejoin="round"/>
<polyline points="452.5,271.0 458.8,280.0 465.0,287.5 471.0,295.0 475.0,300.0 480.0,302.5 485.0,307.5" fill="none" stroke="#4a6458" stroke-width="0.8" stroke-opacity="0.85" stroke-linejoin="round"/>
<polyline points="98.8,280.0 98.8,290.0 101.0,303.0" fill="none" stroke="#4a6458" stroke-width="0.8" stroke-opacity="0.85" stroke-linejoin="round"/>
<polyline points="142.5,348.8 150.0,346.2 158.8,347.0 167.5,347.0 177.5,346.2 187.5,345.5 195.0,342.5 202.5,337.5 210.0,331.2 213.8,326.2 216.2,317.5 218.8,310.0 222.5,302.5 225.0,296.2" fill="none" stroke="#4a6458" stroke-width="0.8" stroke-opacity="0.85" stroke-linejoin="round"/>
<polyline points="143.8,350.0 143.8,365.0 146.2,372.5 150.0,382.5 153.8,391.2 156.2,400.0" fill="none" stroke="#4a6458" stroke-width="0.8" stroke-opacity="0.85" stroke-linejoin="round"/>
<polyline points="182.5,275.0 192.5,276.2 202.5,281.2 210.0,287.5 216.2,292.5 223.8,295.0 232.5,293.8 236.2,300.0 235.0,310.0 234.5,320.0 236.2,330.0 238.8,340.0 245.0,343.8 255.0,345.0 262.5,347.5" fill="none" stroke="#4a6458" stroke-width="0.8" stroke-opacity="0.85" stroke-linejoin="round"/>
</g>
<polygon points="35.5,169.5 41,164 47.5,160 52,158 57.5,159.5 61,165.5 66,169.5 71,167 74.5,164 78,167 85,167 92.5,165.5 94.5,161 93,154 91,149 89.5,144.5 95,141 96,135 97.5,129.5 101,125 106,123 111,122.5 116,125 121,131 125,137.5 130,142.5 136,146 142.5,150 147.5,154 152.5,157 157,160 164,160.5 170,159.5 180,159.5 192.5,160 204,161 212.5,160 222.5,158 232.5,157.5 242.5,155 247.5,150 256,149 254,144 249.5,140 249,134 251,129 254.5,124 256,119 265,117.5 275,117 285,116 294,115 300,112 307.5,112.5 315,111 317.5,104 321,99 326,94 331,91 337.5,94 342.5,96 346,101 351,104 356,106 362.5,102.5 369,99 375,92.5 381,89 389,86 395,84 399,76 402.5,69 406,61 410,54 414,49.5 422.5,47.5 430,46 437.5,45 445,47.5 452.5,50.5 460,53 465,55 475,52.5 484,49 494,45.5 500,47.5 506,54 512.5,59 516,66 522.5,74 527.5,77.5 534,75 542.5,72.5 550,74 557.5,71 565,67.5 569.5,69.5 572,75 577,80 581,86 584,90 592.5,91 597.5,97.5 602.5,105 607.5,111 615,109.5 622.5,111 625,119 624,125 628,131 624,136 617.5,140 615,146 609,149 605,154 599,155 592.5,152.5 587.5,155 581,159.5 575,161 570,167.5 566,172.5 562.5,179 556,184 551,186 549,192.5 547.5,199 549,206 542.5,210 539,216 536,222.5 532.5,227.5 534,234 529,240 526,246 520,251 516,257.5 515,264 514,270 509,275 506,282.5 501,290 502.5,297.5 499,302.5 492.5,305 487.5,307.5 482.5,311 481,319 480,327.5 481,335 476,340 474,347.5 469,352.5 464,359 457.5,360.5 450,357 442.5,357 436,360 431,366 429,372.5 422.5,374.5 416,371 410,369 405,372.5 399,371 392.5,374.5 386,376 380,372.5 376,370 372.5,374 369,374 364,371 357.5,371 351,376 345,375 339,371 334,369 327.5,372.5 322.5,372.5 319,377.5 314,382.5 307.5,387.5 301,390 295,392.5 289,394 284,390 280,391 279,396 274,400 267.5,404 261,405 255,406 250,409 245,407.5 241,409 236,416 231,420 225,422.5 219,426 212.5,424 205,424.5 199,423 191,420 186,422.5 180,424 174,422.5 167.5,421 162.5,417.5 156,416 150,415 145,411 142.5,405 137.5,401 131,401 125,400 120,396 115,392.5 110,387.5 105.5,380 102.5,373 96,369 90,365 82.5,361 76,356 74,349 67.5,344 60,340 54,334 49,330 44,326 41,320 37.5,315 34,310 31,304 27.5,297.5 24,291 25,286 22.5,282.5 17.5,281 11,280 6,279 11,274 16,269 21,262.5 27.5,260.5 35,260 36,255 40,247.5 37.5,240 35,230 39,222.5 36,215 37.5,209 44,204 50,200 55,196 57.5,191 60,186 57.5,181 52.5,177.5 46,175 40,172.5" fill="none" stroke="#3c3c44" stroke-width="1.7" stroke-linejoin="round"/>
<g transform="translate(5,420) scale(0.11455)">
<defs><linearGradient id="lgr" gradientUnits="userSpaceOnUse" x1="80" y1="400" x2="390" y2="80"><stop offset="0" stop-color="#55a0e0"/><stop offset="0.45" stop-color="#4cb0bb"/><stop offset="1" stop-color="#45c98d"/></linearGradient></defs>
<g fill="url(#lgr)" stroke="none" opacity="0.92">
<circle cx="240" cy="226" r="177"/>
<path d="M58,358 C95,420 170,448 240,443 C300,440 360,410 398,320 L240,300 Z"/>
</g>
<g fill="#fff">
<!-- hole + passage + crescent -->
<path d="M225,135 C180,135 148,172 148,220 C150,262 180,292 216,292 C244,292 264,272 268,248 C270,238 286,238 286,252 C282,290 250,314 214,314 C196,314 180,316 170,322 C190,350 220,366 250,366 C280,364 298,345 302,310 C312,215 285,135 225,135 Z"/>
</g>
<path d="M70,350 C100,378 140,396 190,402" fill="none" stroke="#fff" stroke-width="7" stroke-linecap="round"/>
<g fill="none" stroke="#fff" stroke-width="2.6" stroke-opacity="0.55">
<path d="M90,300 C55,200 120,72 240,66 C350,62 415,170 388,290"/>
<path d="M112,290 C85,200 140,96 235,90 C330,86 390,170 365,300"/>
<path d="M130,270 C110,180 170,112 240,112 C320,115 360,200 338,310"/>
</g>
</g>
</svg>
<div class="t" style="left:15px;top:14.2px;letter-spacing:-0.3px">SPI6</div>
<div class="t" style="left:508px;top:14.2px;">2021. augusztus</div>
<div class="lb" style="top:318px;background:#0000ff"></div><div class="lt" style="top:317.3px">extrém nedves</div>
<div class="lb" style="top:338px;background:#3366ff"></div><div class="lt" style="top:337.3px">nagyon nedves</div>
<div class="lb" style="top:358px;background:#33ddff"></div><div class="lt" style="top:357.3px">mérsékelten n.</div>
<div class="lb" style="top:378px;background:#80ffcc"></div><div class="lt" style="top:377.3px">enyhén nedves</div>
<div class="lb" style="top:398px;background:#dcff5a"></div><div class="lt" style="top:397.3px">enyhén száraz</div>
<div class="lb" style="top:418px;background:#ffe100"></div><div class="lt" style="top:417.3px">mérsékelten sz.</div>
<div class="lb" style="top:438px;background:#ff8700"></div><div class="lt" style="top:437.3px">nagyon száraz</div>
<div class="lb" style="top:458px;background:#ff0000"></div><div class="lt" style="top:457.3px">extrém száraz</div>

<div class="lg" style="top:430.5px">ORSZÁGOS</div>
<div class="lg" style="top:441.8px">METEOROLÓGIAI</div>
<div class="lg" style="top:453px">SZOLGÁLAT</div>
</body></html>
